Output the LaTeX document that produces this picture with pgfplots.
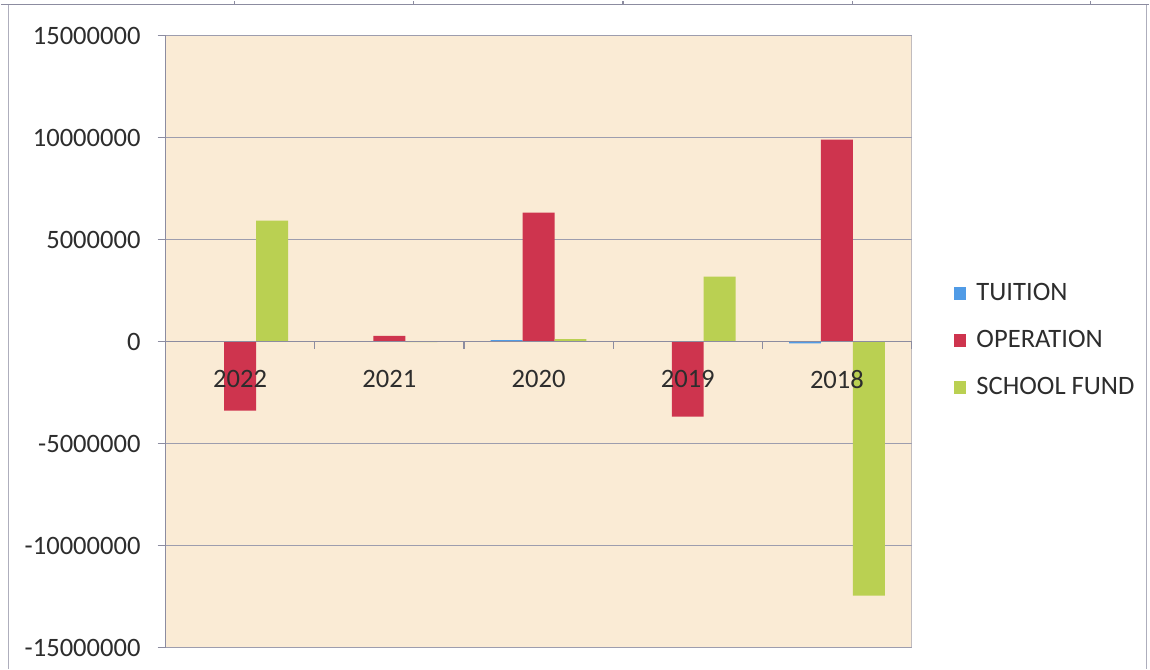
\documentclass[border=0pt]{standalone}
\usepackage{fontspec}
\setmainfont{Carlito}
\usepackage{pgfplots}
\pgfplotsset{compat=1.18}
\definecolor{tuition}{RGB}{80,155,230}
\definecolor{operation}{RGB}{206,52,78}
\definecolor{fund}{RGB}{186,208,82}
\definecolor{bgpeach}{RGB}{250,235,213}
\definecolor{txt}{RGB}{45,45,45}
\definecolor{axgray}{RGB}{140,140,160}
\pgfplotsset{
  layers/mylayers/.define layer set={
    axis background,axis grid,pre main,main,axis ticks,axis lines,axis tick labels,axis descriptions,axis foreground
  }{
    grid style={/pgfplots/on layer=axis grid},
    tick style={/pgfplots/on layer=axis ticks},
    axis line style={/pgfplots/on layer=axis lines},
    label style={/pgfplots/on layer=axis descriptions},
    legend style={/pgfplots/on layer=axis descriptions},
    title style={/pgfplots/on layer=axis descriptions},
    colorbar style={/pgfplots/on layer=axis descriptions},
    ticklabel style={/pgfplots/on layer=axis tick labels},
    axis background@ style={/pgfplots/on layer=axis background},
    3d box foreground style={/pgfplots/on layer=axis foreground},
  },
}
\begin{document}
\begin{tikzpicture}
\begin{axis}[
  set layers=mylayers,
  at={(82.5pt,10.5pt)}, anchor=south west,
  scale only axis, width=373.5pt, height=306.5pt,
  axis background/.style={fill=bgpeach},
  ybar=0pt, bar width=16pt,
  xmin=-0.5, xmax=4.5, ymin=-15000000, ymax=15000000,
  axis x line*=middle, axis y line*=left,
  axis line style={axgray, line width=0.7pt},
  xtick={0,1,2,3,4},
  xticklabels={2022,2021,2020,2019,2018},
  minor xtick={-0.5,0.5,1.5,2.5,3.5,4.5},
  major x tick style={draw=none},
  minor x tick style={axgray, line width=0.6pt},
  minor tick length=3.5pt,
  ytick={-15000000,-10000000,-5000000,0,5000000,10000000,15000000},
  y tick style={axgray, line width=0.6pt},
  major tick length=4pt,
  tick align=outside,
  ymajorgrids, grid style={axgray!85, line width=0.6pt},
  scaled y ticks=false,
  yticklabel={\pgfmathprintnumber[fixed,precision=0,1000 sep={}]{\tick}},
  /pgf/number format/assume math mode=true,
  tick label style={font=\fontsize{13.3}{15}\selectfont, text=txt},
  xticklabel style={yshift=-7pt},
  yticklabel style={xshift=-5pt},
  legend style={at={(1.056,0.502)}, anchor=west, draw=none, fill=none,
    font=\fontsize{13.3}{15}\selectfont, text=txt, row sep=9.5pt,
    legend cell align=left, inner sep=0pt,
    /tikz/every odd column/.append style={column sep=3pt}},
  legend image code/.code={\fill[#1,draw=none] (0pt,-3.2pt) rectangle (6.4pt,3.2pt);},
]
\addplot[fill=tuition, draw=none] coordinates {(0,20000) (1,0) (2,75000) (3,0) (4,-80000)};
\addplot[fill=operation, draw=none] coordinates {(0,-3380000) (1,280000) (2,6320000) (3,-3680000) (4,9900000)};
\addplot[fill=fund, draw=none] coordinates {(0,5930000) (1,-30000) (2,120000) (3,3190000) (4,-12450000)};
\draw[axgray!80, line width=0.6pt] (rel axis cs:1,0) -- (rel axis cs:1,1);
\legend{TUITION,OPERATION,SCHOOL FUND}
\end{axis}
\draw[axgray,line width=0.8pt] (0,332.5pt) -- (575pt,332.5pt);
\draw[axgray!70,line width=0.6pt] (4pt,0) -- (4pt,332.5pt);
\draw[axgray!70,line width=0.6pt] (573.5pt,0) -- (573.5pt,332.5pt);
\foreach \xx in {117,206.5,311.5,426.5,545.5}{\draw[axgray,line width=0.6pt] (\xx pt,332.5pt) -- (\xx pt,334.5pt);}
\path (0,0) rectangle (575pt,334.5pt);
\end{tikzpicture}
\end{document}
